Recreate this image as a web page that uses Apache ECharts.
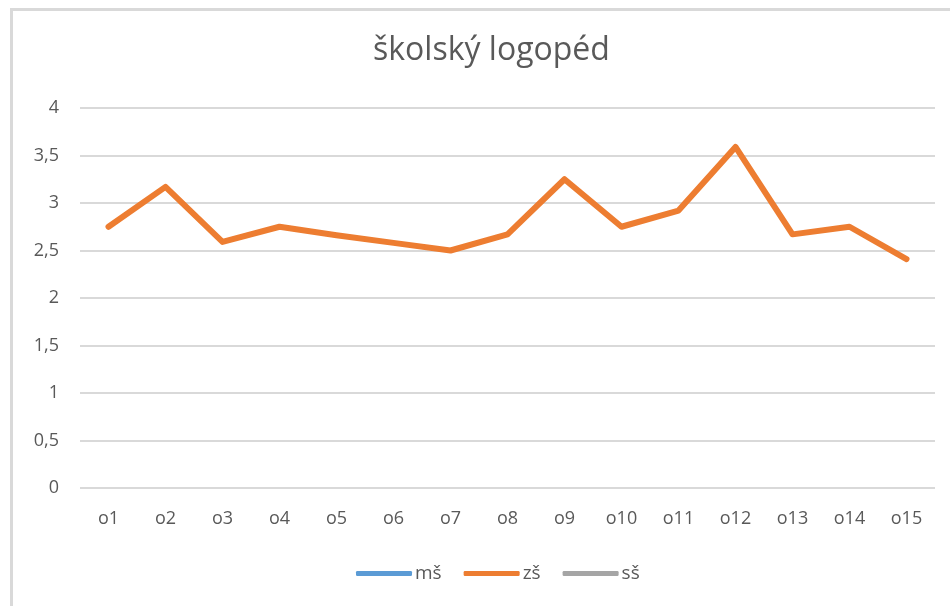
<!DOCTYPE html>
<html>
<head>
<meta charset="utf-8">
<script src="https://cdn.jsdelivr.net/npm/echarts@6/dist/echarts.min.js"></script>
<style>
  html, body { margin: 0; padding: 0; background: #fff; }
  #chart { width: 950px; height: 606px; }
</style>
</head>
<body>
<div id="chart"></div>
<script>
// data
const categories = ['o1', 'o2', 'o3', 'o4', 'o5', 'o6', 'o7', 'o8', 'o9', 'o10', 'o11', 'o12', 'o13', 'o14', 'o15'];
const msValues = [];
const zsValues = [2.75, 3.17, 2.59, 2.75, 2.66, 2.58, 2.5, 2.67, 3.25, 2.75, 2.92, 3.59, 2.67, 2.75, 2.41];
const ssValues = [];

const chart = echarts.init(document.getElementById('chart'));
const font = '"Open Sans", "Noto Sans", sans-serif';
const textColor = '#595959';

const option = {
  animation: false,
  title: {
    text: 'školský logopéd',
    left: 368,
    top: 30,
    textStyle: { fontFamily: font, fontSize: 32, fontWeight: 'normal', color: textColor }
  },
  legend: {
    bottom: 18,
    left: 351,
    itemWidth: 56,
    itemHeight: 5,
    itemGap: 22,
    icon: 'roundRect',
    textStyle: { fontFamily: font, fontSize: 19, color: textColor, padding: [0, 0, 0, -2] },
    data: ['mš', 'zš', 'sš']
  },
  grid: { left: 80, right: 15, top: 108, bottom: 118 },
  xAxis: {
    type: 'category',
    data: categories,
    axisLine: { show: false },
    axisTick: { show: false },
    axisLabel: { fontFamily: font, fontSize: 18, color: textColor, margin: 22 }
  },
  yAxis: {
    type: 'value',
    min: 0,
    max: 4,
    interval: 0.5,
    axisLabel: {
      fontFamily: font, fontSize: 18, color: textColor, margin: 21,
      formatter: v => String(v).replace('.', ',')
    },
    splitLine: { lineStyle: { color: '#d9d9d9', width: 2 } }
  },
  series: [
    { name: 'mš', type: 'line', data: msValues, symbol: 'none', itemStyle: { color: '#5B9BD5' }, lineStyle: { width: 6 } },
    { name: 'zš', type: 'line', data: zsValues, symbol: 'none', itemStyle: { color: '#ED7D31' }, lineStyle: { width: 6, cap: 'round', join: 'round' } },
    { name: 'sš', type: 'line', data: ssValues, symbol: 'none', itemStyle: { color: '#A5A5A5' }, lineStyle: { width: 6 } }
  ],
  graphic: [
    { type: 'rect', shape: { x: 10, y: 8, width: 940, height: 3 }, style: { fill: '#d9d9d9' }, silent: true },
    { type: 'rect', shape: { x: 10, y: 8, width: 3, height: 598 }, style: { fill: '#d9d9d9' }, silent: true }
  ]
};

chart.setOption(option);
</script>
</body>
</html>
